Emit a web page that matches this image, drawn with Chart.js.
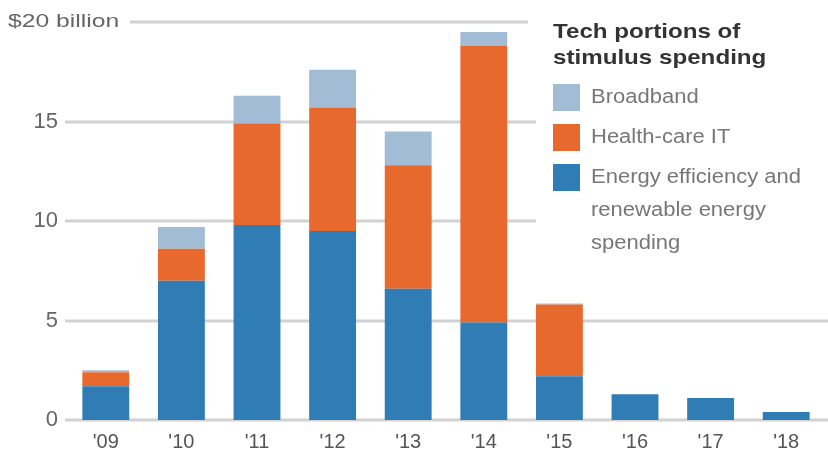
<!DOCTYPE html>
<html><head><meta charset="utf-8">
<script src="https://cdn.jsdelivr.net/npm/chart.js@4/dist/chart.umd.min.js"></script>
<style>html,body{margin:0;padding:0;background:#fff}#wrap{width:828px;height:453px;position:relative}</style>
</head><body><div id="wrap"><canvas id="c" width="828" height="453"></canvas></div>
<script>
const years = ["'09","'10","'11","'12","'13","'14","'15","'16","'17","'18"];
const energy = [1.7, 7.0, 9.8, 9.5, 6.6, 4.9, 2.2, 1.3, 1.1, 0.4];
const healthIT = [0.7, 1.6, 5.1, 6.2, 6.2, 13.9, 3.6, 0, 0, 0];
const broadband = [0.1, 1.1, 1.4, 1.9, 1.7, 0.7, 0.05, 0, 0, 0];
const yTicks = [0, 5, 10, 15, 20];
const yTickLabels = ["0", "5", "10", "15", "$20 billion"];
const legendTitle = ["Tech portions of", "stimulus spending"];
const seriesNames = ["Energy efficiency and renewable energy spending", "Health-care IT", "Broadband"];
const legendLines = [["Broadband"], ["Health-care IT"], ["Energy efficiency and", "renewable energy", "spending"]];
const colors = ["#2f7db4", "#e8692e", "#a3bcd5"];

const FONT = "'Liberation Sans', Arial, sans-serif";

const decor = {
  id: 'decor',
  beforeDatasetsDraw(chart) {
    const ctx = chart.ctx, y = chart.scales.y, a = chart.chartArea;
    ctx.save();
    ctx.strokeStyle = '#d2d2d2';
    ctx.lineWidth = 3;
    yTicks.forEach((v, i) => {
      const py = Math.round(y.getPixelForValue(v));
      let x0 = a.left - 3, x1 = 536;
      if (v === 20) { x0 = 130; x1 = 528; }
      if (v <= 5) { x1 = 828; }
      ctx.beginPath(); ctx.moveTo(x0, py); ctx.lineTo(x1, py); ctx.stroke();
    });
    ctx.fillStyle = '#666';
    ctx.textBaseline = 'middle';
    yTicks.forEach((v, i) => {
      const py = y.getPixelForValue(v);
      if (v === 20) {
        ctx.font = '19px ' + FONT;
        ctx.textAlign = 'left';
        ctx.save(); ctx.translate(8, py); ctx.scale(1.3, 1);
        ctx.fillText(yTickLabels[i], 0, 0); ctx.restore();
      } else {
        ctx.font = '22px ' + FONT;
        ctx.textAlign = 'right';
        ctx.fillText(yTickLabels[i], 58, py);
      }
    });
    ctx.restore();
  },
  afterDraw(chart) {
    const ctx = chart.ctx;
    ctx.save();
    ctx.textBaseline = 'middle';
    ctx.textAlign = 'left';
    ctx.fillStyle = '#333';
    ctx.font = 'bold 21px ' + FONT;
    legendTitle.forEach((t, i) => {
      ctx.save(); ctx.translate(553, 32 + i * 26); ctx.scale(1.15, 1);
      ctx.fillText(t, 0, 0); ctx.restore();
    });
    const ys = [97, 137, 177];
    const cols = [colors[2], colors[1], colors[0]];
    ctx.font = '20px ' + FONT;
    legendLines.forEach((lines, i) => {
      ctx.fillStyle = cols[i];
      ctx.fillRect(553, ys[i] - 13, 27, 27);
      ctx.fillStyle = '#777';
      lines.forEach((t, j) => {
        ctx.save(); ctx.translate(591, ys[i] + j * 33); ctx.scale(1.1, 1);
        ctx.fillText(t, 0, 0); ctx.restore();
      });
    });
    ctx.restore();
  }
};

new Chart(document.getElementById('c'), {
  type: 'bar',
  data: {
    labels: years,
    datasets: [
      { label: seriesNames[0], data: energy, backgroundColor: colors[0] },
      { label: seriesNames[1], data: healthIT, backgroundColor: colors[1] },
      { label: seriesNames[2], data: broadband, backgroundColor: colors[2] }
    ]
  },
  options: {
    responsive: false,
    animation: false,
    devicePixelRatio: 1,
    layout: { padding: { left: 68, right: 4, top: 22, bottom: 0 } },
    datasets: { bar: { barPercentage: 0.62, categoryPercentage: 1 } },
    plugins: { legend: { display: false }, tooltip: { enabled: false } },
    scales: {
      x: {
        stacked: true,
        grid: { display: false, drawTicks: false },
        border: { display: false },
        ticks: { color: '#555', font: { family: FONT, size: 20 }, padding: 10 },
        afterFit(s) { s.height = 33; }
      },
      y: {
        stacked: true, min: 0, max: 20,
        display: false
      }
    }
  },
  plugins: [decor]
});
</script></body></html>
